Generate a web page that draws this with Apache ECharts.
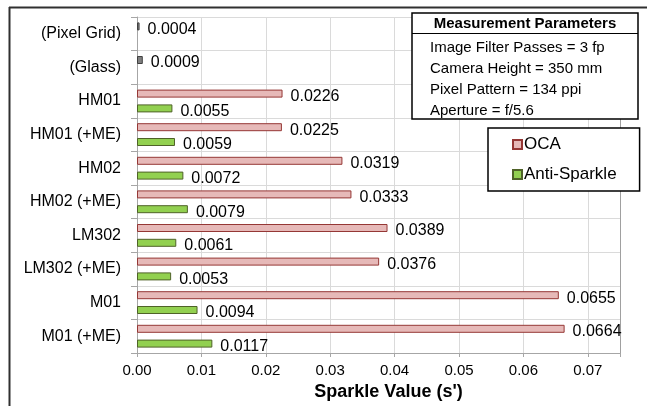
<!DOCTYPE html>
<html>
<head>
<meta charset="utf-8">
<script src="https://cdn.jsdelivr.net/npm/echarts@6/dist/echarts.min.js"></script>
<style>
html,body{margin:0;padding:0;background:#fff;}
#c{width:647px;height:406px;}
</style>
</head>
<body>
<div id="c"></div>
<script>
const categories = ['(Pixel Grid)', '(Glass)', 'HM01', 'HM01 (+ME)', 'HM02', 'HM02 (+ME)', 'LM302', 'LM302 (+ME)', 'M01', 'M01 (+ME)'];
const ocaValues = [null, null, 0.0226, 0.0225, 0.0319, 0.0333, 0.0389, 0.0376, 0.0655, 0.0664];
const referenceValues = [0.0004, 0.0009, null, null, null, null, null, null, null, null];
const antiSparkleValues = [null, null, 0.0055, 0.0059, 0.0072, 0.0079, 0.0061, 0.0053, 0.0094, 0.0117];
const xTicks = [0, 0.01, 0.02, 0.03, 0.04, 0.05, 0.06, 0.07];
const paramTitle = 'Measurement Parameters';
const paramLines = ['Image Filter Passes = 3 fp', 'Camera Height = 350 mm', 'Pixel Pattern = 134 ppi', 'Aperture = f/5.6'];

const FONT = 'Liberation Sans, Arial, sans-serif';
const chart = echarts.init(document.getElementById('c'));

const ocaData = categories.map((c, i) => {
  if (referenceValues[i] != null) {
    return { value: referenceValues[i], itemStyle: { color: '#808080', borderColor: '#404040' } };
  }
  return ocaValues[i] == null ? '-' : ocaValues[i];
});

const labelCfg = {
  show: true, position: 'right', distance: 8, offset: [0, 3],
  fontFamily: FONT, fontSize: 16, color: '#000',
  formatter: p => (typeof p.value === 'number' ? p.value.toFixed(4) : '')
};

const graphics = [
  { type: 'line', shape: { x1: 9.5, y1: 7, x2: 9.5, y2: 406 }, style: { stroke: '#303030', lineWidth: 2 }, z: 100 },
  { type: 'line', shape: { x1: 9, y1: 7.5, x2: 647, y2: 7.5 }, style: { stroke: '#303030', lineWidth: 2 }, z: 100 },
  { type: 'rect', shape: { x: 412, y: 13, width: 226, height: 106 }, style: { fill: '#fff', stroke: '#000', lineWidth: 1.5 }, z: 100 },
  { type: 'line', shape: { x1: 412, y1: 33.5, x2: 638, y2: 33.5 }, style: { stroke: '#000', lineWidth: 1.2 }, z: 101 },
  { type: 'text', x: 525, y: 23.5, style: { text: paramTitle, fontFamily: FONT, fontSize: 15, fontWeight: 'bold', fill: '#000', align: 'center', verticalAlign: 'middle' }, z: 101 }
];
paramLines.forEach((t, i) => {
  graphics.push({ type: 'text', x: 430, y: 47.5 + i * 21, style: { text: t, fontFamily: FONT, fontSize: 15, fill: '#000', align: 'left', verticalAlign: 'middle' }, z: 101 });
});

chart.setOption({
  animation: false,
  backgroundColor: '#fff',
  grid: { left: 137, right: 27, top: 17, bottom: 49 },
  legend: {
    orient: 'vertical', left: 488, top: 128,
    data: ['OCA', 'Anti-Sparkle'],
    backgroundColor: '#fff', borderColor: '#000', borderWidth: 1.5,
    padding: [8, 23, 8, 24], itemGap: 13, itemWidth: 9, itemHeight: 9,
    icon: 'rect',
    textStyle: { fontFamily: FONT, fontSize: 17, color: '#000', padding: [0, 0, 0, -3] },
    z: 100
  },
  xAxis: {
    type: 'value', min: 0, max: 0.075, interval: 0.01,
    name: "Sparkle Value (s')", nameLocation: 'middle', nameGap: 30,
    nameTextStyle: { fontFamily: FONT, fontSize: 18, fontWeight: 'bold', color: '#000', padding: [0, 0, 0, 20] },
    axisLine: { show: true, lineStyle: { color: '#a6a6a6' } },
    axisTick: { show: true, length: 4, lineStyle: { color: '#a6a6a6' } },
    splitLine: { show: true, lineStyle: { color: '#dadada' } },
    axisLabel: {
      margin: 10, fontFamily: FONT, fontSize: 15, color: '#000',
      formatter: v => (xTicks.some(t => Math.abs(t - v) < 1e-9) ? v.toFixed(2) : '')
    }
  },
  yAxis: [{
    type: 'category', inverse: true, data: categories,
    axisLine: { show: true, lineStyle: { color: '#a6a6a6' } },
    axisTick: { show: true, length: 6, lineStyle: { color: '#a6a6a6' } },
    splitLine: { show: true, lineStyle: { color: '#dadada' } },
    axisLabel: { margin: 16, fontFamily: FONT, fontSize: 16, color: '#000' }
  }, {
    type: 'category', inverse: true, position: 'right', data: categories,
    axisLine: { show: true, lineStyle: { color: '#a0a0a0' } },
    axisTick: { show: false }, axisLabel: { show: false }, splitLine: { show: false }
  }],
  series: [{
    name: 'OCA', type: 'bar', data: ocaData, barWidth: 8, barGap: '85%',
    itemStyle: { color: '#e6b9b8', borderColor: '#953735', borderWidth: 1 },
    label: labelCfg
  }, {
    name: 'Anti-Sparkle', type: 'bar', data: antiSparkleValues, barWidth: 8,
    itemStyle: { color: '#92d050', borderColor: '#4f6228', borderWidth: 1 },
    label: labelCfg
  }],
  graphic: graphics
});
</script>
</body>
</html>
